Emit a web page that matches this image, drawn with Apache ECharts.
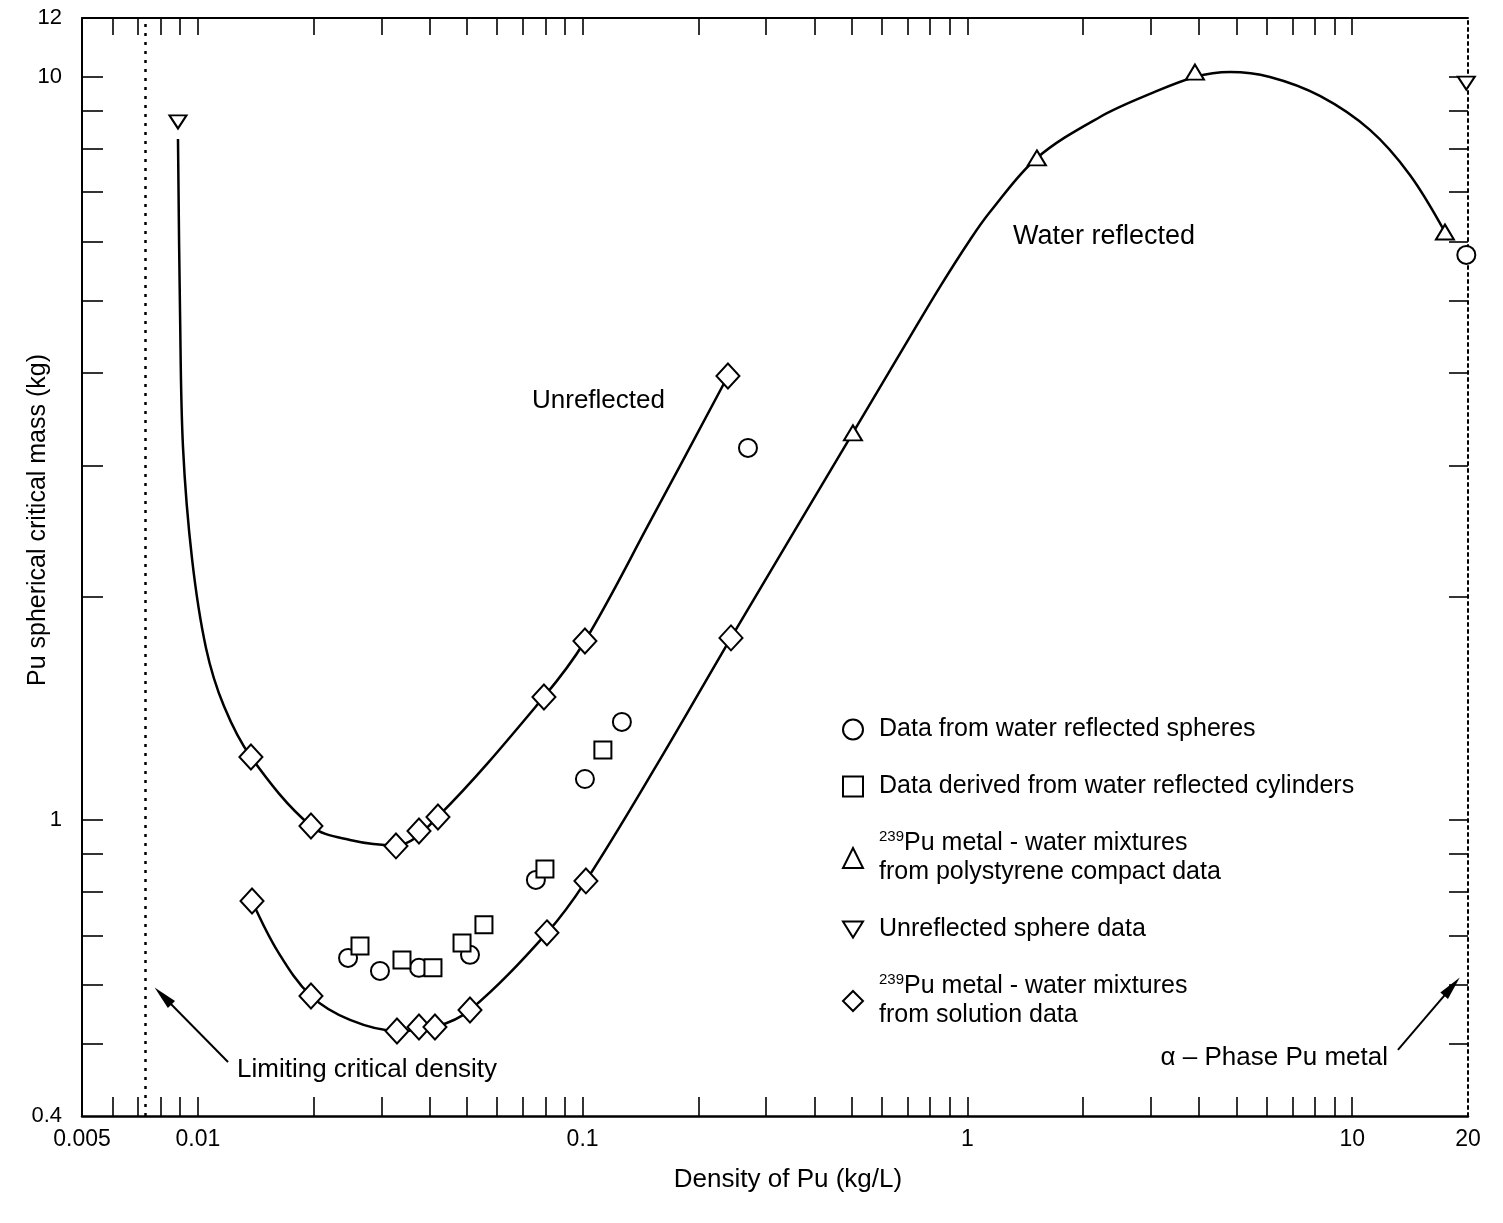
<!DOCTYPE html>
<html><head><meta charset="utf-8">
<script src="https://cdn.jsdelivr.net/npm/echarts@6/dist/echarts.min.js"></script>
<style>html,body{margin:0;padding:0;background:#fff}#chart{width:1503px;height:1223px}</style>
</head><body><div id="chart"></div>
<script>
// ---- axis extents and ticks ----
const X_MIN = 0.005, X_MAX = 20, Y_MIN = 0.4, Y_MAX = 12;
const xTicks = [0.006,0.007,0.008,0.009,0.01,0.02,0.03,0.04,0.05,0.06,0.07,0.08,0.09,0.1,0.2,0.3,0.4,0.5,0.6,0.7,0.8,0.9,1,2,3,4,5,6,7,8,9,10];
const xLabelValues = [0.005, 0.01, 0.1, 1, 10, 20];
const xTickLabels = ['0.005', '0.01', '0.1', '1', '10', '20'];
const yTicks = [0.5,0.6,0.7,0.8,0.9,1,2,3,4,5,6,7,8,9,10];
const yLabelValues = [0.4, 1, 10, 12];
const yTickLabels = ['0.4', '1', '10', '12'];

// ---- reference lines ----
const limitingDensity = 0.0073;     // limiting critical density (kg/L)
const arrowLimiting = [[0.01198, 0.4729], [0.00812, 0.580]];
const arrowAlpha = [[13.15, 0.4909], [18.17, 0.597]];

// ---- fitted curves ----
const upperCurveX = [0.00888, 0.00899, 0.00915, 0.00966, 0.0105, 0.01169, 0.01374, 0.01968, 0.02486, 0.0327, 0.042, 0.0793, 0.1014, 0.1496, 0.2386];
const upperCurveY = [8.248, 4.812, 3.178, 2.246, 1.705, 1.424, 1.216, 0.9824, 0.9407, 0.925, 1.0102, 1.465, 1.742, 2.519, 3.959];
const lowerCurveX = [0.01383, 0.01616, 0.01968, 0.02486, 0.0329, 0.0413, 0.0510, 0.0808, 0.1020, 0.157, 0.243, 0.504, 0.6966, 0.8486, 1.0155, 1.1445, 1.516, 2.211, 2.982, 3.903, 4.813, 6.114, 8.246, 11.12, 14.13, 17.42];
const lowerCurveY = [0.7786, 0.665, 0.5802, 0.5386, 0.5206, 0.527, 0.5555, 0.7054, 0.8286, 1.194, 1.759, 3.319, 4.399, 5.218, 6.034, 6.579, 7.779, 8.831, 9.484, 9.996, 10.15, 9.996, 9.426, 8.484, 7.379, 6.184];

// ---- data points ----
const sphereX = [0.02457, 0.02974, 0.03756, 0.05097, 0.07561, 0.1014, 0.1265, 0.269, 19.8];
const sphereY = [0.6528, 0.627, 0.6329, 0.6589, 0.8311, 1.136, 1.356, 3.168, 5.76];
const cylinderX = [0.02639, 0.03393, 0.04084, 0.0486, 0.05541, 0.07982, 0.1129];
const cylinderY = [0.6775, 0.6487, 0.6329, 0.6838, 0.7232, 0.8599, 1.243];
const polyX = [0.5042, 1.516, 3.903, 17.42];
const polyY = [3.319, 7.779, 10.15, 6.184];
const unreflX = [0.00888, 19.8];
const unreflY = [8.697, 9.81];
const solutionUpperX = [0.01374, 0.01968, 0.03273, 0.03756, 0.04208, 0.07934, 0.1014, 0.2386];
const solutionUpperY = [1.216, 0.9824, 0.9235, 0.9673, 1.0102, 1.465, 1.742, 3.959];
const solutionLowerX = [0.01383, 0.01968, 0.03293, 0.03756, 0.04133, 0.05097, 0.08078, 0.102, 0.243];
const solutionLowerY = [0.7786, 0.5802, 0.5206, 0.5271, 0.5271, 0.5555, 0.7054, 0.8286, 1.759];

const NAME_SPH = 'Data from water reflected spheres';
const NAME_CYL = 'Data derived from water reflected cylinders';
const NAME_POLY = '239Pu metal - water mixtures from polystyrene compact data';
const NAME_UNR = 'Unreflected sphere data';
const NAME_SOL = '239Pu metal - water mixtures from solution data';
const legendText = {};
legendText[NAME_SPH] = 'Data from water reflected spheres';
legendText[NAME_CYL] = 'Data derived from water reflected cylinders';
legendText[NAME_POLY] = '{sup|239}Pu metal - water mixtures\nfrom polystyrene compact data';
legendText[NAME_UNR] = 'Unreflected sphere data';
legendText[NAME_SOL] = '{sup|239}Pu metal - water mixtures\nfrom solution data';

// ---- helpers ----
const L = Math.log10;
const zip = (xs, ys) => xs.map((x, i) => [x, ys[i]]);
function labelFormatter(values, texts) {
  return function (v) {
    for (let i = 0; i < values.length; i++) {
      if (Math.abs(L(values[i]) - v) < 1e-6) return texts[i];
    }
    return '';
  };
}
const FONT = 'Liberation Sans';
const BLACK = '#000';
const markerStyle = { color: '#fff', borderColor: BLACK, borderWidth: 2, opacity: 1 };
const tickStyle = { color: BLACK, width: 1.6 };

const chart = echarts.init(document.getElementById('chart'), null, { renderer: 'canvas' });
const option = {
  backgroundColor: '#fff',
  animation: false,
  grid: { left: 82, right: 35, top: 18, bottom: 107, containLabel: false, outerBoundsMode: 'none' },
  xAxis: [
    { type: 'log', logBase: 10, min: X_MIN, max: X_MAX, position: 'bottom',
      axisLine: { show: true, onZero: false, lineStyle: { color: BLACK, width: 2.5 } },
      axisTick: { show: false }, axisLabel: { show: false }, splitLine: { show: false },
      minorTick: { show: false }, minorSplitLine: { show: false } },
    { type: 'value', min: L(X_MIN), max: L(X_MAX), position: 'bottom',
      axisLine: { show: false, onZero: false },
      axisTick: { show: true, inside: true, length: 19, customValues: xTicks.map(L), lineStyle: tickStyle },
      axisLabel: { show: true, customValues: xLabelValues.map(L), formatter: labelFormatter(xLabelValues, xTickLabels),
        margin: 12, color: BLACK, fontSize: 23, fontFamily: FONT },
      splitLine: { show: false } },
    { type: 'value', min: L(X_MIN), max: L(X_MAX), position: 'top',
      axisLine: { show: true, onZero: false, lineStyle: { color: BLACK, width: 2 } },
      axisTick: { show: true, inside: true, length: 17, customValues: xTicks.map(L), lineStyle: tickStyle },
      axisLabel: { show: false }, splitLine: { show: false } }
  ],
  yAxis: [
    { type: 'log', logBase: 10, min: Y_MIN, max: Y_MAX, position: 'left',
      axisLine: { show: true, onZero: false, lineStyle: { color: BLACK, width: 2 } },
      axisTick: { show: false }, axisLabel: { show: false }, splitLine: { show: false },
      minorTick: { show: false }, minorSplitLine: { show: false } },
    { type: 'value', min: L(Y_MIN), max: L(Y_MAX), position: 'left',
      axisLine: { show: false, onZero: false },
      axisTick: { show: true, inside: true, length: 21, customValues: yTicks.map(L), lineStyle: tickStyle },
      axisLabel: { show: true, customValues: yLabelValues.map(L), formatter: labelFormatter(yLabelValues, yTickLabels),
        margin: 20, color: BLACK, fontSize: 22, fontFamily: FONT },
      splitLine: { show: false } },
    { type: 'value', min: L(Y_MIN), max: L(Y_MAX), position: 'right',
      axisLine: { show: true, onZero: false, lineStyle: { color: BLACK, width: 2, type: [3, 4] } },
      axisTick: { show: true, inside: true, length: 19, customValues: yTicks.map(L), lineStyle: tickStyle },
      axisLabel: { show: false }, splitLine: { show: false } }
  ],
  legend: {
    orient: 'vertical', left: 837, top: 710, itemWidth: 20, itemHeight: 20, itemGap: 28,
    selectedMode: false,
    data: [NAME_SPH, NAME_CYL, NAME_POLY, NAME_UNR, NAME_SOL],
    formatter: function (name) { return legendText[name]; },
    itemStyle: { borderWidth: 2, opacity: 1 },
    textStyle: {
      color: BLACK, fontSize: 25, fontFamily: FONT, lineHeight: 29, padding: [0, 0, 0, 11],
      rich: {
        sup: { fontSize: 15, lineHeight: 16, verticalAlign: 'top', fontFamily: FONT, color: BLACK }
      }
    }
  },
  series: [
    { name: 'Unreflected', type: 'line', xAxisIndex: 0, yAxisIndex: 0, smooth: 0.35, symbol: 'none', z: 2,
      silent: true, lineStyle: { color: BLACK, width: 2.5 },
      data: zip(upperCurveX, upperCurveY),
      markLine: { silent: true, symbol: ['none', 'none'], label: { show: false },
        lineStyle: { color: BLACK, type: [3, 6], width: 2.5 },
        data: [[{ coord: [limitingDensity, Y_MIN] }, { coord: [limitingDensity, Y_MAX] }]] } },
    { name: 'Water reflected', type: 'line', xAxisIndex: 0, yAxisIndex: 0, smooth: 0.35, symbol: 'none', z: 2,
      silent: true, lineStyle: { color: BLACK, width: 2.5 },
      data: zip(lowerCurveX, lowerCurveY),
      markLine: { silent: true, symbol: ['none', 'triangle'], symbolSize: [10, 24], label: { show: false },
        lineStyle: { color: BLACK, type: 'solid', width: 2 },
        data: [
          [{ coord: arrowLimiting[0] }, { coord: arrowLimiting[1] }],
          [{ coord: arrowAlpha[0] }, { coord: arrowAlpha[1] }]
        ] } },
    { name: NAME_SPH, type: 'scatter', xAxisIndex: 0, yAxisIndex: 0, z: 5, symbol: 'circle', symbolSize: 18,
      itemStyle: markerStyle, data: zip(sphereX, sphereY) },
    { name: NAME_CYL, type: 'scatter', xAxisIndex: 0, yAxisIndex: 0, z: 5, symbol: 'rect', symbolSize: 17,
      itemStyle: markerStyle, data: zip(cylinderX, cylinderY) },
    { name: NAME_POLY, type: 'scatter', xAxisIndex: 0, yAxisIndex: 0, z: 5, symbol: 'triangle', symbolSize: [18, 15],
      itemStyle: markerStyle, data: zip(polyX, polyY) },
    { name: NAME_UNR, type: 'scatter', xAxisIndex: 0, yAxisIndex: 0, z: 5, symbol: 'path://M0,0L20,0L10,16Z', symbolSize: [17, 13],
      itemStyle: markerStyle, data: zip(unreflX, unreflY) },
    { name: NAME_SOL, type: 'scatter', xAxisIndex: 0, yAxisIndex: 0, z: 5, symbol: 'diamond', symbolSize: [23, 25],
      itemStyle: markerStyle, data: zip(solutionUpperX, solutionUpperY).concat(zip(solutionLowerX, solutionLowerY)) }
  ],
  graphic: [
    { type: 'text', x: 38, y: 520, rotation: Math.PI / 2, silent: true,
      style: { text: 'Pu spherical critical mass (kg)', font: '25px "Liberation Sans"', fill: BLACK, align: 'center', verticalAlign: 'middle' } },
    { type: 'text', x: 788, y: 1180, silent: true,
      style: { text: 'Density of Pu (kg/L)', font: '26px "Liberation Sans"', fill: BLACK, align: 'center', verticalAlign: 'middle' } },
    { type: 'text', x: 532, y: 401, silent: true,
      style: { text: 'Unreflected', font: '26px "Liberation Sans"', fill: BLACK, align: 'left', verticalAlign: 'middle' } },
    { type: 'text', x: 1013, y: 237, silent: true,
      style: { text: 'Water reflected', font: '27px "Liberation Sans"', fill: BLACK, align: 'left', verticalAlign: 'middle' } },
    { type: 'text', x: 237, y: 1070, silent: true,
      style: { text: 'Limiting critical density', font: '26px "Liberation Sans"', fill: BLACK, align: 'left', verticalAlign: 'middle' } },
    { type: 'text', x: 1388, y: 1058, silent: true,
      style: { text: 'α – Phase Pu metal', font: '26px "Liberation Sans"', fill: BLACK, align: 'right', verticalAlign: 'middle' } }
  ]
};
chart.setOption(option);
</script></body></html>
